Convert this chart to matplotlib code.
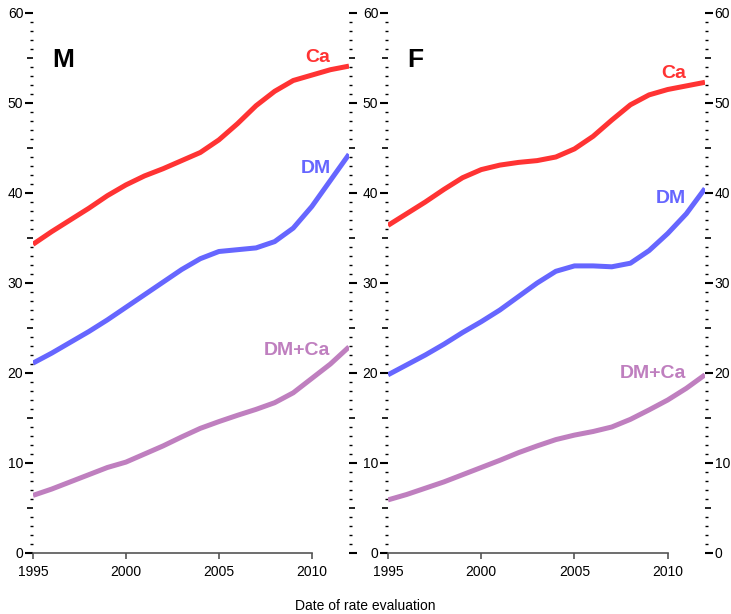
import matplotlib
matplotlib.use("Agg")
import matplotlib.pyplot as plt

plt.rcParams['font.family'] = ['Liberation Sans Narrow', 'Liberation Sans', 'DejaVu Sans']

# Datos
anios = list(range(1995, 2013))

m_ca = [34.3, 35.7, 37.0, 38.3, 39.7, 40.9, 41.9, 42.7, 43.6, 44.5,
        45.9, 47.7, 49.7, 51.3, 52.5, 53.1, 53.7, 54.1]
m_dm = [21.1, 22.2, 23.4, 24.6, 25.9, 27.3, 28.7, 30.1, 31.5, 32.7,
        33.5, 33.7, 33.9, 34.6, 36.1, 38.5, 41.4, 44.3]
m_dmca = [6.4, 7.1, 7.9, 8.7, 9.5, 10.1, 11.0, 11.9, 12.9, 13.85,
          14.6, 15.3, 15.96, 16.7, 17.8, 19.4, 21.0, 22.9]

f_ca = [36.4, 37.7, 39.0, 40.4, 41.7, 42.6, 43.1, 43.4, 43.6, 44.0,
        44.9, 46.3, 48.1, 49.8, 50.9, 51.5, 51.9, 52.3]
f_dm = [19.8, 20.9, 22.0, 23.2, 24.5, 25.7, 27.0, 28.5, 30.0, 31.3,
        31.9, 31.9, 31.8, 32.2, 33.6, 35.5, 37.7, 40.5]
f_dmca = [5.9, 6.5, 7.2, 7.9, 8.7, 9.5, 10.3, 11.15, 11.9, 12.6,
          13.1, 13.5, 14.0, 14.85, 15.9, 17.0, 18.3, 19.8]

series = ["Ca", "DM", "DM+Ca"]
colores = ["#FF3333", "#6666FF", "#BF7FBF"]
m_label_y = [54.6, 42.2, 22.0]
f_label_y = [52.8, 38.9, 19.4]

xticks = [1995, 2000, 2005, 2010]
yticks = list(range(0, 61, 10))
ymed = list(range(5, 60, 10))
ymin = [v for v in range(0, 61) if v % 5 != 0]

fig = plt.figure(figsize=(7.31, 6.14), dpi=100)
ax1 = fig.add_axes([33 / 731, 61 / 614, 316 / 731, 540 / 614])
ax2 = fig.add_axes([388 / 731, 61 / 614, 317 / 731, 540 / 614])


def panel(ax, datos, label_y, letra, etiqueta_izq, etiqueta_der):
    for valores, nombre, color, ly in zip(datos, series, colores, label_y):
        ax.plot(anios, valores, color=color, lw=3.6, solid_capstyle='butt')
        ax.text(2011, ly, nombre, color=color, fontsize=14, fontweight='bold',
                ha='right', va='baseline', family=['Liberation Sans', 'DejaVu Sans'])
    ax.text(0.06, 0.9, letra, transform=ax.transAxes, fontsize=19, fontweight='bold',
            ha='left', va='baseline', family=['Liberation Sans', 'DejaVu Sans'])

    ax.set_xlim(1995, 2012)
    ax.set_ylim(0, 60)
    for s in ['top', 'left', 'right']:
        ax.spines[s].set_visible(False)
    ax.spines['bottom'].set_bounds(1995, 2010)
    ax.spines['bottom'].set_color('#555555')
    ax.spines['bottom'].set_linewidth(1.2)

    ax.set_xticks(xticks)
    ax.tick_params(axis='x', length=4, width=1.2, color='#555555', pad=5, labelsize=10)

    ax.set_yticks(yticks)
    ax.set_yticks(ymin, minor=True)
    ax.yaxis.set_ticks_position('both')
    ax.tick_params(axis='y', which='major', direction='out', length=5.8, width=1.5,
                   pad=1.2, labelsize=10, labelleft=etiqueta_izq, labelright=etiqueta_der)
    ax.tick_params(axis='y', which='minor', direction='out', length=2.5, width=1.0)

    # marcas intermedias cada 5
    for lado in ['left', 'right']:
        sec = ax.secondary_yaxis(lado)
        sec.set_yticks(ymed)
        sec.tick_params(length=4.2, width=1.2, labelleft=False, labelright=False)
        for s in sec.spines.values():
            s.set_visible(False)


panel(ax1, [m_ca, m_dm, m_dmca], m_label_y, "M", True, False)
panel(ax2, [f_ca, f_dm, f_dmca], f_label_y, "F", True, True)

fig.text(0.5, 0.002, "Date of rate evaluation", ha='center', va='bottom', fontsize=10)

fig.savefig("out.png", dpi=100)
